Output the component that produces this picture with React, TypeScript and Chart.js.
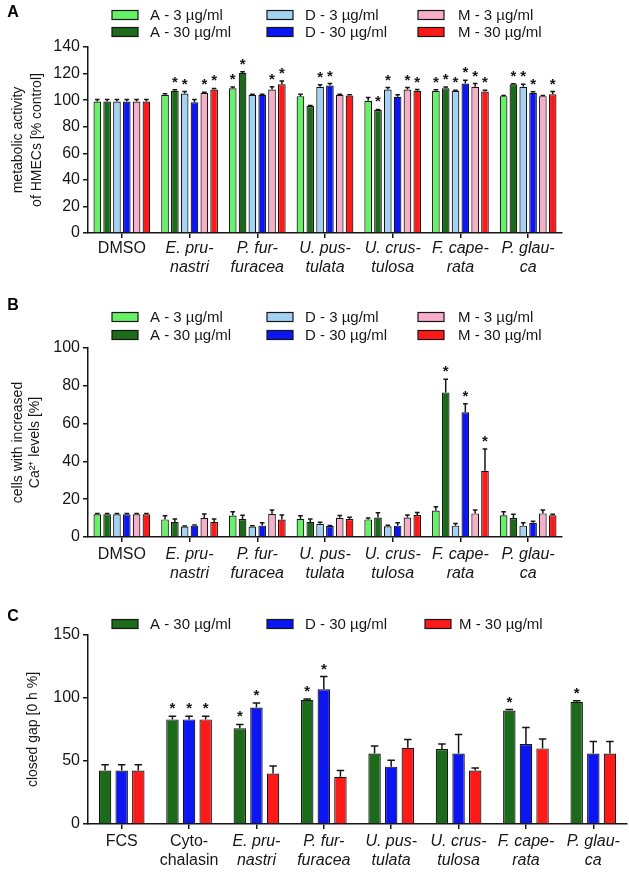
import React, { useEffect, useRef } from 'react';
import { Chart, registerables } from 'chart.js';
Chart.register(...registerables);

const FONT = "'Liberation Sans', Arial, Helvetica, sans-serif";
const INK = '#161616';

// ---------- categories ----------
const categoriesAB: (string | string[])[] = [
  'DMSO', ['E. pru-', 'nastri'], ['P. fur-', 'furacea'], ['U. pus-', 'tulata'],
  ['U. crus-', 'tulosa'], ['F. cape-', 'rata'], ['P. glau-', 'ca'],
];
const italicAB = [false, true, true, true, true, true, true];
const categoriesC: (string | string[])[] = [
  'FCS', ['Cyto-', 'chalasin'], ['E. pru-', 'nastri'], ['P. fur-', 'furacea'], ['U. pus-', 'tulata'],
  ['U. crus-', 'tulosa'], ['F. cape-', 'rata'], ['P. glau-', 'ca'],
];
const italicC = [false, false, true, true, true, true, true, true];

const seriesNames = ['A - 3 µg/ml', 'A - 30 µg/ml', 'D - 3 µg/ml', 'D - 30 µg/ml', 'M - 3 µg/ml', 'M - 30 µg/ml'];
const seriesNamesC = ['A - 30 µg/ml', 'D - 30 µg/ml', 'M - 30 µg/ml'];
const seriesColors = ['#66F266', '#1B6B1B', '#A3D2F2', '#0B16F2', '#F7AEC9', '#FF1A1A'];
const seriesColorsC = ['#1B6B1B', '#0B16F2', '#FF1A1A'];

// ---------- panel A: metabolic activity ----------
const metA3 = [99, 104, 109, 103, 99.5, 107, 103];
const metA3Err = [1.5, 0.8, 0.8, 1.5, 2.5, 0.8, 0.5];
const metA3Star = [0, 0, 1, 0, 0, 1, 0];
const metA30 = [99, 107, 120.5, 95.5, 92.5, 109, 112];
const metA30Err = [1.5, 0.8, 0.8, 0.5, 0.5, 0.8, 0.3];
const metA30Star = [0, 1, 1, 0, 1, 1, 1];
const metD3 = [99, 105, 104, 110, 108, 107, 110];
const metD3Err = [1.5, 1.5, 0.5, 1.5, 1.5, 0.5, 2];
const metD3Star = [0, 1, 0, 1, 1, 1, 1];
const metD30 = [99, 98.5, 104, 111, 102.5, 112.5, 105.5];
const metD30Err = [1.5, 2, 0.5, 1.5, 1.5, 2.5, 0.8];
const metD30Star = [0, 0, 0, 1, 0, 1, 1];
const metM3 = [99, 105.5, 108, 104, 108, 110, 103];
const metM3Err = [1.5, 0.5, 2, 0.5, 1.5, 2.5, 0.5];
const metM3Star = [0, 1, 1, 0, 1, 1, 0];
const metM30 = [99, 108, 112, 103.5, 107, 106.5, 104.5];
const metM30Err = [1.5, 0.8, 2.5, 0.5, 1, 1, 2];
const metM30Star = [0, 1, 1, 0, 1, 1, 1];

// ---------- panel B: Ca2+ ----------
const caA3 = [12, 9.3, 11.4, 9.5, 9.3, 14, 11.5];
const caA3Err = [0.5, 2, 2, 1.8, 0.8, 2, 1.8];
const caA30 = [12, 8, 9.5, 8, 10.3, 76.5, 10];
const caA30Err = [0.5, 1.5, 2, 1.5, 2.5, 7, 2];
const caD3 = [12, 5.5, 5.5, 7, 5.7, 6, 6];
const caD3Err = [0.5, 0.3, 0.5, 0.8, 0.5, 1.2, 1.5];
const caD30 = [12, 6, 6, 5.8, 6, 66, 7.5];
const caD30Err = [0.5, 0.3, 1.5, 0.3, 1.5, 4.5, 0.8];
const caM3 = [12, 10, 12.3, 10.2, 10.3, 12.5, 12.5];
const caM3Err = [0.5, 2.2, 2, 1.2, 1.3, 1.8, 1.8];
const caM30 = [12, 8, 9.2, 9.5, 11.6, 35, 11.5];
const caM30Err = [0.5, 1.5, 2.5, 1, 1.3, 11.5, 0.5];
const caA3Star = [0, 0, 0, 0, 0, 0, 0];
const caA30Star = [0, 0, 0, 0, 0, 1, 0];
const caD3Star = [0, 0, 0, 0, 0, 0, 0];
const caD30Star = [0, 0, 0, 0, 0, 1, 0];
const caM3Star = [0, 0, 0, 0, 0, 0, 0];
const caM30Star = [0, 0, 0, 0, 0, 1, 0];

// ---------- panel C: closed gap ----------
const gapA30 = [42.5, 83, 76, 98.5, 56, 59.5, 90, 97];
const gapA30Err = [4.5, 2.5, 3, 0.8, 6, 4, 0.8, 0.8];
const gapA30Star = [0, 1, 1, 1, 0, 0, 1, 1];
const gapD30 = [42.5, 83, 92.5, 107, 45.5, 56, 63.5, 56];
const gapD30Err = [4.5, 2.5, 3.5, 10, 5, 15, 13, 9.5];
const gapD30Star = [0, 1, 1, 1, 0, 0, 0, 0];
const gapM30 = [42.5, 83, 40, 37.5, 60.5, 42.5, 60, 56];
const gapM30Err = [4.5, 2.5, 6, 5, 6.5, 2, 7.5, 9.5];
const gapM30Star = [0, 1, 0, 0, 0, 0, 0, 0];

const yTicksA = [0, 140, 20];
const yTicksB = [0, 100, 20];
const yTicksC = [0, 150, 50];

const decorPlugin = {
  id: 'decor',
  afterDatasetsDraw(chart: any) {
    const ctx = chart.ctx;
    const yScale = chart.scales.y;
    ctx.save();
    chart.data.datasets.forEach((ds: any, i: number) => {
      const meta = chart.getDatasetMeta(i);
      meta.data.forEach((bar: any, j: number) => {
        const v = ds.data[j];
        const e = ds.errors[j];
        const x = bar.x;
        const w = bar.width;
        const yTop = yScale.getPixelForValue(v + e);
        ctx.strokeStyle = INK;
        ctx.lineWidth = 1.5;
        ctx.beginPath();
        ctx.moveTo(x, bar.y);
        ctx.lineTo(x, yTop);
        ctx.moveTo(x - w * 0.3, yTop);
        ctx.lineTo(x + w * 0.3, yTop);
        ctx.stroke();
        if (ds.stars[j]) {
          ctx.fillStyle = INK;
          ctx.font = `bold 15px ${FONT}`;
          ctx.textAlign = 'center';
          ctx.textBaseline = 'alphabetic';
          ctx.fillText('*', x, yTop - 3);
        }
      });
    });
    ctx.restore();
  },
  afterDraw(chart: any, _args: any, opts: any) {
    const ctx = chart.ctx;
    ctx.save();
    ctx.fillStyle = '#000';
    ctx.font = `bold 16px ${FONT}`;
    ctx.textAlign = 'center';
    ctx.textBaseline = 'middle';
    ctx.fillText(opts.letter, opts.letterX, opts.letterY);
    opts.rows.forEach((row: number[], r: number) => {
      row.forEach((dsIndex: number, c: number) => {
        const ds = chart.data.datasets[dsIndex];
        const y = opts.rowY[r];
        const bx = opts.boxX[c];
        ctx.fillStyle = ds.backgroundColor;
        ctx.fillRect(bx, y - 4.5, 26, 9);
        ctx.strokeStyle = INK;
        ctx.lineWidth = 1.2;
        ctx.strokeRect(bx, y - 4.5, 26, 9);
        ctx.fillStyle = INK;
        ctx.font = `15px ${FONT}`;
        ctx.textAlign = 'left';
        ctx.textBaseline = 'middle';
        ctx.fillText(ds.label, opts.textX[c], y + 0.5);
      });
    });
    ctx.restore();
  },
};

function makeConfig(p: any) {
  return {
    type: 'bar',
    data: {
      labels: p.labels,
      datasets: p.series.map((s: any) => ({
        label: s.label,
        data: s.data,
        errors: s.err,
        stars: s.star,
        backgroundColor: s.color,
        borderColor: INK,
        borderWidth: 1.2,
        categoryPercentage: p.catPct,
        barPercentage: p.barPct,
      })),
    },
    plugins: [decorPlugin],
    options: {
      responsive: false,
      animation: false,
      layout: { padding: p.padding },
      plugins: {
        legend: { display: false },
        tooltip: { enabled: false },
        decor: p.decor,
      },
      scales: {
        x: {
          grid: { offset: false, drawOnChartArea: false, drawTicks: true, tickLength: 5, color: INK, lineWidth: 1.5 },
          border: { display: true, color: INK, width: 1.5 },
          ticks: {
            autoSkip: false,
            maxRotation: 0,
            minRotation: 0,
            padding: p.xPad,
            color: INK,
            font: (ctx: any) => ({ family: FONT, size: 16, style: p.italic[ctx.index] ? 'italic' : 'normal', lineHeight: 1.2 }),
          },
          afterFit: (s: any) => { s.height = 50; },
        },
        y: {
          min: p.yTicks[0],
          max: p.yTicks[1],
          grid: { drawOnChartArea: false, drawTicks: true, tickLength: 5, color: INK, lineWidth: 1.5 },
          border: { display: true, color: INK, width: 1.5 },
          ticks: { stepSize: p.yTicks[2], color: INK, padding: 3, font: { family: FONT, size: 16 } },
          title: {
            display: true,
            text: p.title,
            color: INK,
            font: { family: FONT, size: 14, lineHeight: p.titleLH },
            padding: { top: p.titlePad, bottom: 0 },
          },
          afterFit: (s: any) => { s.width = 88; },
        },
      },
    },
  };
}

function Panel({ top, height, config }: { top: number; height: number; config: any }) {
  const ref = useRef<HTMLCanvasElement | null>(null);
  useEffect(() => {
    if (!ref.current) return;
    const chart = new Chart(ref.current, config);
    return () => chart.destroy();
  }, []);
  return (
    <canvas
      ref={ref}
      width={629}
      height={height}
      style={{ position: 'absolute', left: 0, top, width: 629, height }}
    />
  );
}

const configA = makeConfig({
  labels: categoriesAB,
  italic: italicAB,
  yTicks: yTicksA,
  title: ['metabolic activity', 'of HMECs [% control]'],
  titleLH: '19px',
  titlePad: 8.5,
  catPct: 0.87,
  barPct: 0.78,
  xPad: 1,
  padding: { top: 47, bottom: 7, left: 0, right: 67 },
  series: [
    { label: seriesNames[0], data: metA3, err: metA3Err, star: metA3Star, color: seriesColors[0] },
    { label: seriesNames[1], data: metA30, err: metA30Err, star: metA30Star, color: seriesColors[1] },
    { label: seriesNames[2], data: metD3, err: metD3Err, star: metD3Star, color: seriesColors[2] },
    { label: seriesNames[3], data: metD30, err: metD30Err, star: metD30Star, color: seriesColors[3] },
    { label: seriesNames[4], data: metM3, err: metM3Err, star: metM3Star, color: seriesColors[4] },
    { label: seriesNames[5], data: metM30, err: metM30Err, star: metM30Star, color: seriesColors[5] },
  ],
  decor: {
    letter: 'A', letterX: 13, letterY: 13,
    rows: [[0, 2, 4], [1, 3, 5]], rowY: [15, 32],
    boxX: [112, 267, 418], textX: [150, 305, 458],
  },
});

const configB = makeConfig({
  labels: categoriesAB,
  italic: italicAB,
  yTicks: yTicksB,
  title: ['cells with increased', 'Ca²⁺ levels [%]'],
  titleLH: '17px',
  titlePad: 10,
  catPct: 0.87,
  barPct: 0.78,
  xPad: 3,
  padding: { top: 58, bottom: 13, left: 0, right: 67 },
  series: [
    { label: seriesNames[0], data: caA3, err: caA3Err, star: caA3Star, color: seriesColors[0] },
    { label: seriesNames[1], data: caA30, err: caA30Err, star: caA30Star, color: seriesColors[1] },
    { label: seriesNames[2], data: caD3, err: caD3Err, star: caD3Star, color: seriesColors[2] },
    { label: seriesNames[3], data: caD30, err: caD30Err, star: caD30Star, color: seriesColors[3] },
    { label: seriesNames[4], data: caM3, err: caM3Err, star: caM3Star, color: seriesColors[4] },
    { label: seriesNames[5], data: caM30, err: caM30Err, star: caM30Star, color: seriesColors[5] },
  ],
  decor: {
    letter: 'B', letterX: 13, letterY: 16,
    rows: [[0, 2, 4], [1, 3, 5]], rowY: [27, 45],
    boxX: [112, 267, 418], textX: [150, 305, 458],
  },
});

const configC = makeConfig({
  labels: categoriesC,
  italic: italicC,
  yTicks: yTicksC,
  title: 'closed gap [0 h %]',
  titleLH: '19px',
  titlePad: 23.5,
  catPct: 0.74,
  barPct: 0.75,
  xPad: 3,
  padding: { top: 35, bottom: 4, left: 0, right: 2 },
  series: [
    { label: seriesNamesC[0], data: gapA30, err: gapA30Err, star: gapA30Star, color: seriesColorsC[0] },
    { label: seriesNamesC[1], data: gapD30, err: gapD30Err, star: gapD30Star, color: seriesColorsC[1] },
    { label: seriesNamesC[2], data: gapM30, err: gapM30Err, star: gapM30Star, color: seriesColorsC[2] },
  ],
  decor: {
    letter: 'C', letterX: 13, letterY: 17,
    rows: [[0, 1, 2]], rowY: [24],
    boxX: [112, 267, 425], textX: [150, 305, 459],
  },
});

export default function App() {
  return (
    <div style={{ position: 'absolute', left: 0, top: 0, width: 629, height: 878, background: '#fff' }}>
      <Panel top={0} height={290} config={configA} />
      <Panel top={290} height={310} config={configB} />
      <Panel top={600} height={278} config={configC} />
    </div>
  );
}
